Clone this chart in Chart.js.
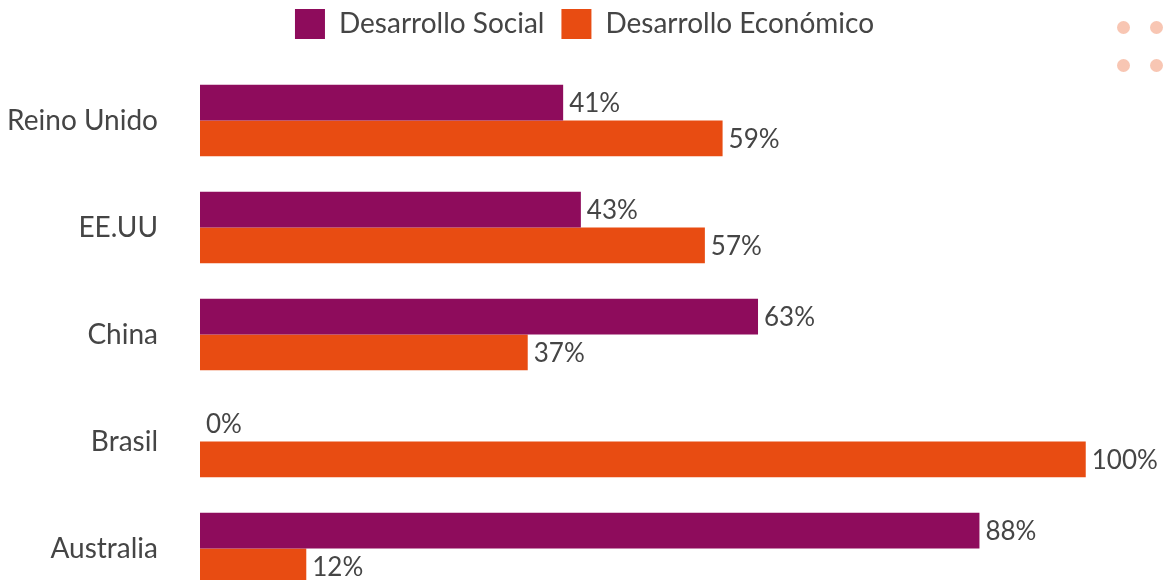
<!DOCTYPE html>
<html>
<head>
<meta charset="utf-8">
<script src="https://cdn.jsdelivr.net/npm/chart.js@4"></script>
<style>
  html, body { margin: 0; padding: 0; background: #fff; overflow: hidden; }
  #wrap { position: relative; width: 1169px; height: 602px; }
  .dot { position: absolute; width: 13px; height: 13px; border-radius: 50%; background: #f8c6b3; }
</style>
</head>
<body>
<div id="wrap">
  <canvas id="chart"></canvas>
  <div class="dot" style="left:1117px;top:21px"></div>
  <div class="dot" style="left:1150px;top:21px"></div>
  <div class="dot" style="left:1117px;top:59px"></div>
  <div class="dot" style="left:1150px;top:59px"></div>
</div>
<script>
const FONT = 'Lato';
const TEXT_COLOR = '#454545';

const countries = ['Reino Unido', 'EE.UU', 'China', 'Brasil', 'Australia'];
const social    = [41, 43, 63, 0, 88];
const economico = [59, 57, 37, 100, 12];

// etiquetas de porcentaje al final de cada barra
const barLabels = {
  id: 'barLabels',
  afterDatasetsDraw(chart) {
    const ctx = chart.ctx;
    ctx.save();
    ctx.font = `26px ${FONT}`;
    ctx.fillStyle = TEXT_COLOR;
    ctx.textBaseline = 'middle';
    ctx.textAlign = 'left';
    chart.data.datasets.forEach((ds, i) => {
      chart.getDatasetMeta(i).data.forEach((bar, j) => {
        ctx.fillText(ds.data[j] + '%', bar.x + 6, bar.y + 1);
      });
    });
    ctx.restore();
  }
};

// sube la leyenda un poco sin cambiar el área del gráfico
const legendShift = {
  id: 'legendShift',
  afterLayout(chart) {
    chart.legend.top -= 18;
    chart.legend.bottom -= 18;
  }
};

new Chart(document.getElementById('chart'), {
  type: 'bar',
  data: {
    labels: countries,
    datasets: [
      { label: 'Desarrollo Social',    data: social,    backgroundColor: '#8e0c5c' },
      { label: 'Desarrollo Económico', data: economico, backgroundColor: '#e84c12' },
    ]
  },
  options: {
    indexAxis: 'y',
    responsive: true,
    maintainAspectRatio: false,
    animation: false,
    categoryPercentage: 0.67,
    barPercentage: 1.0,
    layout: { padding: { top: 10, bottom: 0, left: 0, right: 0 } },
    plugins: {
      legend: {
        display: true,
        labels: {
          color: TEXT_COLOR,
          font: { size: 28, family: FONT },
          boxWidth: 30,
          boxHeight: 30,
          padding: 17
        }
      },
      tooltip: { enabled: false }
    },
    scales: {
      x: { display: false, min: 0, max: 109.4 },
      y: {
        grid: { display: false },
        border: { display: false },
        ticks: { color: TEXT_COLOR, font: { size: 28, family: FONT }, padding: 34 },
        afterFit(scale) { scale.width = 200; scale.paddingTop = 0; scale.paddingBottom = 0; }
      }
    }
  },
  plugins: [barLabels, legendShift]
});
</script>
</body>
</html>
